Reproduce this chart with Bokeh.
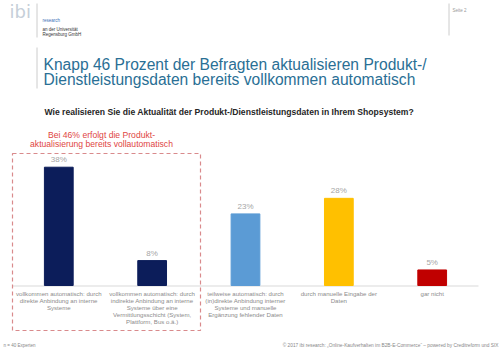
from bokeh.plotting import figure
from bokeh.models import Range1d, ColumnDataSource
from bokeh.core.properties import value
from bokeh.embed import file_html
from bokeh.resources import INLINE

# ---- data ----
categories = [
    "vollkommen automatisch: durch\ndirekte Anbindung an interne\nSysteme",
    "vollkommen automatisch: durch\nindirekte Anbindung an interne\nSysteme über eine\nVermittlungsschicht (System,\nPlattform, Bus o.ä.)",
    "teilweise automatisch: durch\n(in)direkte Anbindung interner\nSysteme und manuelle\nErgänzung fehlender Daten",
    "durch manuelle Eingabe der\nDaten",
    "gar nicht",
]
values = [38, 8, 23, 28, 5]
value_labels = ["38%", "8%", "23%", "28%", "5%"]
bar_colors = ["#0c1d5a", "#0c1d5a", "#5b9bd5", "#ffc000", "#c00000"]

title_lines = ["Knapp 46 Prozent der Befragten aktualisieren Produkt-/",
               "Dienstleistungsdaten bereits vollkommen automatisch"]
question = "Wie realisieren Sie die Aktualität der Produkt-/Dienstleistungsdaten in Ihrem Shopsystem?"
callout = ["Bei 46% erfolgt die Produkt-", "aktualisierung bereits vollautomatisch"]
footer_left = "n = 40 Experten"
footer_right = "© 2017 ibi research: „Online-Kaufverhalten im B2B-E-Commerce“ – powered by Creditreform und SIX"

FONT = value("Liberation Sans")
W, H = 500, 352

p = figure(width=W, height=H, output_backend="svg", toolbar_location=None,
           x_axis_type=None, y_axis_type=None, min_border=0,
           x_range=Range1d(-0.6245, 4.7317), y_range=Range1d(-21.52, 91.55))
p.outline_line_color = None
p.background_fill_color = "white"
p.border_fill_color = "white"
p.extra_x_ranges = {"px": Range1d(0, W)}
p.extra_y_ranges = {"px": Range1d(H, 0)}
PX = dict(x_range_name="px", y_range_name="px")

idx = list(range(len(categories)))
src = ColumnDataSource(dict(x=idx, top=values, color=bar_colors, lab=value_labels, cat=categories))

# baseline
p.segment(x0=[12], y0=[285.5], x1=[478], y1=[285.5], line_color="#d9d9d9", line_width=1, **PX)

# bars
p.vbar(x="x", top="top", bottom=0, width=0.308, fill_color="color", line_color="color", source=src)
p.text(x="x", y="top", text="lab", source=src, y_offset=-3, text_align="center", text_baseline="bottom",
       text_font=FONT, text_font_size="8px", text_color="#a6a6a6")
p.text(x="x", y=0, text="cat", source=src, y_offset=4, text_align="center", text_baseline="top",
       text_font=FONT, text_font_size="6.1px", text_color="#8c8c8c", text_line_height=1.0)

# dashed callout box
p.quad(left=[12], right=[200], top=[153], bottom=[330], fill_alpha=0, line_color="#d98a8c",
       line_dash="4 3", line_width=1.2, **PX)
p.text(x=[101, 101], y=[134.5, 143.5], text=callout, text_align="center", text_baseline="middle",
       text_font=FONT, text_font_size="8.6px", text_color="#e0453f", **PX)

# header
p.text(x=[9], y=[11], text=["ibi"], text_align="left", text_baseline="middle",
       text_font=value("DejaVu Sans"), text_font_size="18px", text_color="#c6cfd9", **PX)
p.segment(x0=[36.5, 36.5, 448.5], y0=[3, 47, 3], x1=[36.5, 36.5, 448.5], y1=[37, 88, 35],
          line_color="#cccccc", line_width=1, **PX)
p.text(x=[42], y=[20], text=["research"], text_baseline="middle", text_font=FONT,
       text_font_size="4.5px", text_color="#3b6fb6", **PX)
p.text(x=[42, 42], y=[28.5, 33.5], text=["an der Universität", "Regensburg GmbH"], text_baseline="middle",
       text_font=FONT, text_font_size="4.5px", text_color="#333333", **PX)
p.text(x=[452], y=[10], text=["Seite 2"], text_baseline="middle", text_font=FONT,
       text_font_size="4.5px", text_color="#999999", **PX)

p.text(x=[43, 43], y=[63.5, 79], text=title_lines, text_baseline="middle", text_font=FONT,
       text_font_size="15.6px", text_color="#2a6f95", **PX)
p.text(x=[44], y=[111], text=[question], text_baseline="middle", text_font=FONT,
       text_font_size="8.6px", text_font_style="bold", text_color="#262626", **PX)

# footer
p.text(x=[3], y=[345], text=[footer_left], text_baseline="middle", text_font=FONT,
       text_font_size="4.5px", text_color="#888888", **PX)
p.text(x=[498], y=[345], text=[footer_right], text_align="right", text_baseline="middle", text_font=FONT,
       text_font_size="4.8px", text_color="#888888", **PX)

open("out.html", "w").write(file_html(p, INLINE))
